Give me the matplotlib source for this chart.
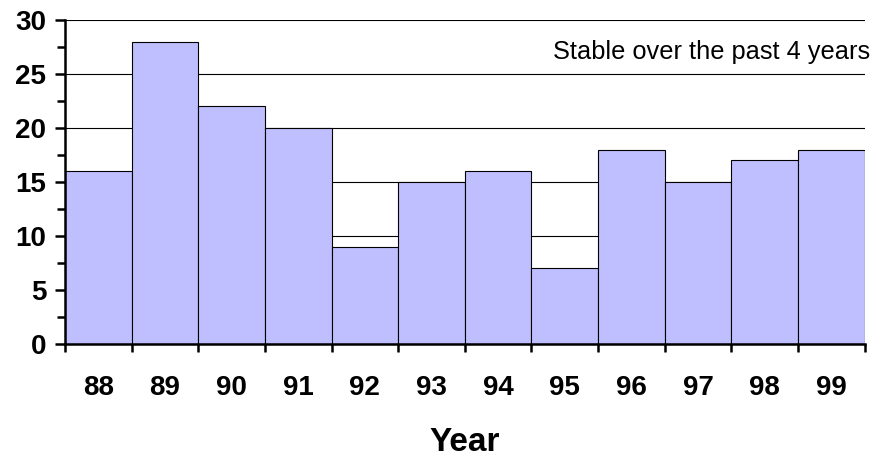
import matplotlib.pyplot as plt
from matplotlib.ticker import MultipleLocator, FixedLocator

plt.rcParams['font.family'] = ['Liberation Sans', 'DejaVu Sans']

# Data
years = ["88", "89", "90", "91", "92", "93", "94", "95", "96", "97", "98", "99"]
values = [16, 28, 22, 20, 9, 15, 16, 7, 18, 15, 17, 18]
note = "Stable over the past 4 years"

fig = plt.figure(figsize=(8.77, 4.59), dpi=100)
ax = fig.add_axes([0.074, 0.2505, 0.912, 0.706])

# Bars touching each other, ticks on the edges
ax.bar(range(len(years)), values, width=1.0, align='edge',
       color='#bfbfff', edgecolor='black', linewidth=0.8, zorder=2)

ax.set_xlim(0, len(years))
ax.set_ylim(0, 30)

# Gridlines
ax.yaxis.grid(True, color='black', linewidth=0.8, zorder=0)
ax.set_axisbelow(True)

# Axes styling
for s in ['top', 'right']:
    ax.spines[s].set_visible(False)
for s in ['left', 'bottom']:
    ax.spines[s].set_linewidth(1.8)

ax.yaxis.set_major_locator(MultipleLocator(5))
ax.yaxis.set_minor_locator(MultipleLocator(2.5))
ax.tick_params(axis='y', which='major', length=7.5, width=1.8,
               labelsize=20, pad=6)
ax.tick_params(axis='y', which='minor', length=5.5, width=1.8)
for lbl in ax.get_yticklabels():
    lbl.set_fontweight('bold')

ax.xaxis.set_major_locator(FixedLocator(range(len(years) + 1)))
ax.set_xticklabels([])
ax.xaxis.set_minor_locator(FixedLocator([i + 0.5 for i in range(len(years))]))
ax.set_xticklabels(years, minor=True, fontsize=20, fontweight='bold')
ax.tick_params(axis='x', which='major', length=6, width=1.8)
ax.tick_params(axis='x', which='minor', length=0, pad=22)

ax.set_xlabel("Year", fontsize=24, fontweight='bold', labelpad=19)

ax.text(12.08, 27.0, note, ha='right', va='center', fontsize=18.3)

plt.savefig("out.png", dpi=100)
